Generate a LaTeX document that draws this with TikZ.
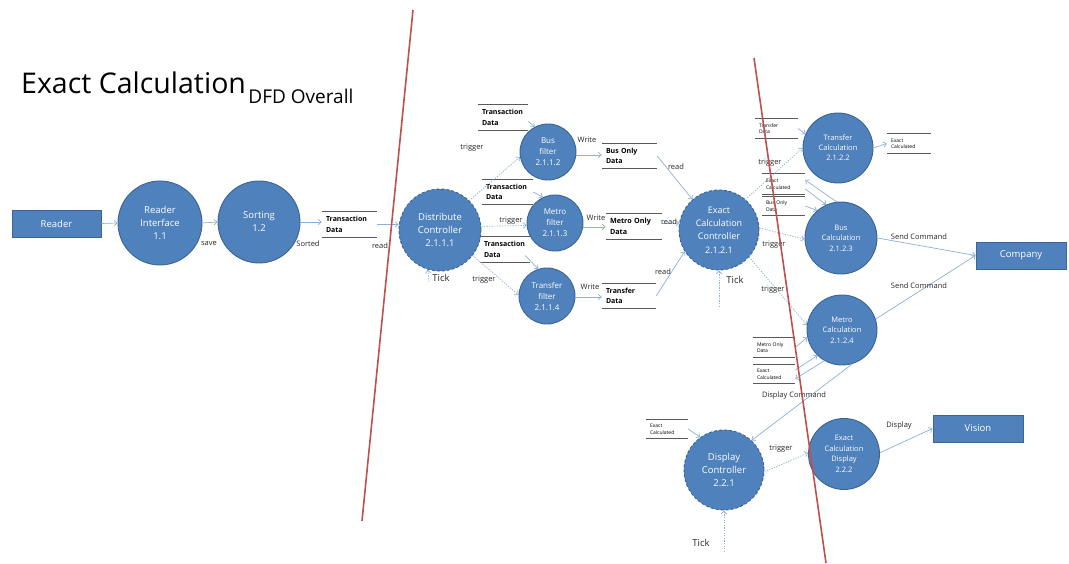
\documentclass[tikz,border=0pt]{standalone}
\usepackage{fontspec}
\setmainfont{Open Sans}
\usetikzlibrary{arrows.meta}

\definecolor{procfill}{HTML}{4F81BD}
\definecolor{procedge}{HTML}{3A6494}
\definecolor{flowblue}{HTML}{8DB0DC}
\definecolor{divider}{HTML}{C0504D}
\definecolor{storeline}{HTML}{5A5A5A}

\newcommand{\fsz}[2]{\fontsize{#1}{#2}\selectfont}

\tikzset{
  proc/.style={circle, fill=procfill, draw=procedge, line width=0.9pt,
    text=white, align=center, inner sep=0pt},
  ctrl/.style={proc, dash pattern=on 3pt off 2pt},
  entity/.style={rectangle, fill=procfill, draw=procedge, line width=0.9pt,
    text=white, inner sep=0pt, font=\fsz{9.5}{12}},
  flow/.style={draw=flowblue, line width=0.7pt, -{Straight Barb[length=3pt,width=5.5pt]}},
  trig/.style={flow, dash pattern=on 1.3pt off 1.3pt},
  lbl/.style={font=\fsz{7.5}{9}, text=black!85, inner sep=0pt},
  ticklbl/.style={font=\fsz{9.5}{11}, text=black!85, inner sep=0pt},
  store/.style={rectangle, inner xsep=4pt, inner ysep=0pt, align=left, text=black},
  storerule/.style={draw=storeline, line width=0.8pt},
  divline/.style={draw=divider, line width=1.6pt}
}

% data store: name, x1, y1, x2, y2, font, text
\newcommand{\datastore}[7]{%
  \pgfmathsetmacro\dsw{#4-#2}%
  \pgfmathsetmacro\dsh{#5-#3}%
  \pgfmathsetmacro\dstw{#4-#2-8}%
  \node[store, font={#6}, minimum width=\dsw pt, minimum height=\dsh pt, text width=\dstw pt]
    (#1) at ({(#2+#4)/2},{(#3+#5)/2}) {#7};
  \draw[storerule] (#1.north west) -- (#1.north east) (#1.south west) -- (#1.south east);}

\begin{document}
\begin{tikzpicture}[x=1pt,y=-1pt]
\useasboundingbox (0,0) rectangle (1069,564);
\fill[white] (0,0) rectangle (1069,564);

% title
\node[anchor=base west, inner sep=0pt, font=\fsz{28.5}{32}] (title) at (21,94) {Exact Calculation};
\node[anchor=base west, inner sep=0pt, font=\fsz{19}{22}] (titlesub)
  at ([xshift=2pt,yshift=-10pt]title.base east) {DFD Overall};

% external entities
\node[entity, minimum width=89, minimum height=27] (reader) at (56.5,223.5) {Reader};
\node[entity, minimum width=90, minimum height=27] (company) at (1021,255.5) {Company};
\node[entity, minimum width=90, minimum height=27] (vision) at (978,428.5) {Vision};

% processes
\node[proc, minimum size=84, font=\fsz{9.5}{13}] (ri) at (160,223) {Reader\\Interface\\1.1};
\node[proc, minimum size=82, font=\fsz{9.5}{13}] (so) at (259,222) {Sorting\\1.2};
\node[ctrl, minimum size=82, font=\fsz{9.5}{13}] (dc) at (440,230) {Distribute\\Controller\\2.1.1.1};
\node[proc, minimum size=56, font=\fsz{8}{11}] (bf) at (548,152) {Bus\\filter\\2.1.1.2};
\node[proc, minimum size=56, font=\fsz{8}{11}] (mf) at (555,223) {Metro\\filter\\2.1.1.3};
\node[proc, minimum size=56, font=\fsz{8}{11}] (tf) at (547,296) {Transfer\\filter\\2.1.1.4};
\node[ctrl, minimum size=80, font=\fsz{9}{13.3}] (ecc) at (719,230) {Exact\\Calculation\\Controller\\2.1.2.1};
\node[proc, minimum size=70, font=\fsz{7.5}{10}] (tc) at (838,148) {Transfer\\Calculation\\2.1.2.2};
\node[proc, minimum size=72, font=\fsz{7.5}{10.5}] (bc) at (841,238) {Bus\\Calculation\\2.1.2.3};
\node[proc, minimum size=70, font=\fsz{7.5}{10.5}] (mc) at (842,330) {Metro\\Calculation\\2.1.2.4};
\node[ctrl, minimum size=80, font=\fsz{9.5}{13}] (disp) at (724,470) {Display\\Controller\\2.2.1};
\node[proc, minimum size=71, font=\fsz{7.5}{10.5}] (ecd) at (844,454) {Exact\\Calculation\\Display\\2.2.2};

% data stores
\datastore{td1}{322}{212}{377}{237}{\bfseries\fsz{7}{10.5}}{Transaction\\Data}
\datastore{td2}{478}{105}{528}{130}{\bfseries\fsz{7}{10.5}}{Transaction\\Data}
\datastore{td3}{482}{180}{533}{204}{\bfseries\fsz{7}{10.5}}{Transaction\\Data}
\datastore{td4}{480}{237}{530}{262}{\bfseries\fsz{7}{10.5}}{Transaction\\Data}
\datastore{bod}{602}{144}{657}{168}{\bfseries\fsz{7}{10.5}}{Bus Only\\Data}
\datastore{mod}{606}{214}{662}{239}{\bfseries\fsz{7.2}{10.5}}{Metro Only\\Data}
\datastore{trd}{602}{284}{656}{308}{\bfseries\fsz{7}{10.5}}{Transfer\\Data}
\datastore{trd2}{755}{119}{798}{138}{\fsz{5}{6.5}}{Transfer\\Data}
\datastore{exo}{887}{134}{931}{153}{\fsz{5}{6.5}}{Exact\\Calculated}
\datastore{exb}{762}{174}{805}{194}{\fsz{5}{6.5}}{Exact\\Calculated}
\datastore{bod2}{762}{197}{805}{215}{\fsz{5}{6.5}}{Bus Only\\Data}
\datastore{mod2}{753}{338}{795}{357}{\fsz{5}{6.5}}{Metro Only\\Data}
\datastore{exm}{753}{365}{795}{383}{\fsz{5}{6.5}}{Exact\\Calculated}
\datastore{exd}{646}{420}{688}{438}{\fsz{5}{6.5}}{Exact\\Calculated}

% free ends of the clock ticks
\coordinate (dctick) at (429,282);
\coordinate (ecctick) at (719,307);
\coordinate (disptick) at (724,552);

% data flows
\draw[flow] (reader.east) -- (ri.west);
\draw[flow] (ri.east) -- (so.west);
\draw[flow] (so.east) -- (so.east -| td1.west);
\draw[flow] (td1.east) -- (td1.east -| dc.west);
\draw[flow] ([yshift=-4pt]td2.east) -- (bf.118);
\draw[flow] (td3.east) -- (mf.115);
\draw[flow] ([xshift=-5pt,yshift=-6pt]td4.east) -- (tf.108);
\draw[flow] (bf.-6) -- (bf.-6 -| bod.west);
\draw[flow] (mf.-8) -- (mf.-8 -| mod.west);
\draw[flow] (tf.-2) -- (tf.-2 -| trd.west);
\draw[flow] (bod.east) -- (ecc.131);
\draw[flow] ([yshift=3pt]mod.east) -- (ecc.170);
\draw[flow] (trd.east) -- (ecc.212);
\draw[flow] (trd2.east) -- (tc.157);
\draw[flow] (tc.east) -- (exo.west);
\draw[flow] (bc.97) -- ([yshift=4pt]exb.east);
\draw[flow] ([yshift=-5pt]exb.east) -- (bc.114);
\draw[flow] (bod2.east) -- (bc.131);
\draw[flow] (mod2.east) -- (mc.192);
\draw[flow] ([yshift=4pt]exm.east) -- (mc.226);
\draw[flow] (mc.240) -- ([yshift=-5pt]exm.east);
\draw[flow] (bc.east) -- (company.west);
\draw[flow] (mc.18) -- (company.west);
\draw[flow] (mc.-73) -- (disp.47);
\draw[flow] (exd.east) -- (disp.126);
\draw[flow] (ecd.2) -- (vision.west);

% triggers and ticks
\draw[trig] (dc.45) -- (bf.190);
\draw[trig] (dc.5) -- (mf.185);
\draw[trig] (dc.-38) -- (tf.178);
\draw[trig] (ecc.49) -- (tc.180);
\draw[trig] (ecc.3) -- (bc.182);
\draw[trig] (ecc.-42) -- (mc.172);
\draw[trig] (disp.-3) -- (ecd.178);
\draw[trig] (dctick) -- (dc.253);
\draw[trig] (ecctick) -- (ecc.270);
\draw[trig] (disptick) -- (disp.270);

% flow labels
\node[lbl] (lsave) at (209,243) {save};
\node[lbl] (lsorted) at (308,244) {Sorted};
\node[lbl] (lread1) at (380,246) {read};
\node[lbl] (ltrig1) at (472,148) {trigger};
\node[lbl] (ltrig2) at (511,221) {trigger};
\node[lbl] (ltrig3) at (484,280) {trigger};
\node[lbl] (lwrite1) at (587,140) {Write};
\node[lbl] (lwrite2) at (596,218) {Write};
\node[lbl] (lwrite3) at (590,287) {Write};
\node[lbl] (lread2) at (676,167) {read};
\node[lbl] (lread3) at (669,222) {read};
\node[lbl] (lread4) at (663,272) {read};
\node[lbl] (ltrig4) at (770,163) {trigger};
\node[lbl] (ltrig5) at (774,245) {trigger};
\node[lbl] (ltrig6) at (773,290) {trigger};
\node[lbl] (ltrig7) at (781,449) {trigger};
\node[lbl] (lsend1) at (919,237) {Send Command};
\node[lbl] (lsend2) at (919,286) {Send Command};
\node[lbl] (ldispcmd) at (794,396) {Display Command};
\node[lbl] (ldisplay) at (899,426) {Display};
\node[ticklbl] (ltick1) at (441,278) {Tick};
\node[ticklbl] (ltick2) at (735,280) {Tick};
\node[ticklbl] (ltick3) at (701,543) {Tick};

% dividing strokes
\draw[divline] (413,10) -- (362,521);
\draw[divline] (754,58) -- (826,563);
\end{tikzpicture}
\end{document}
